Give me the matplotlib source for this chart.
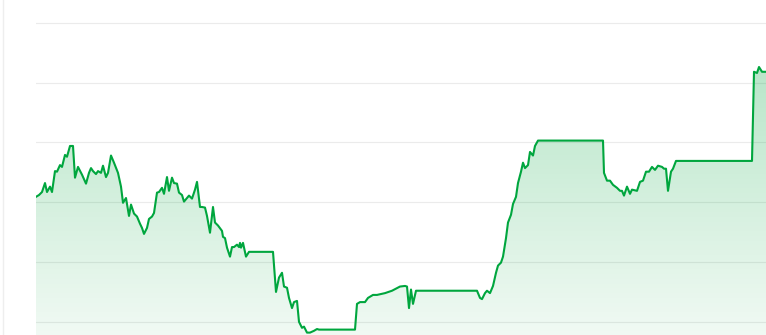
import numpy as np
import matplotlib
matplotlib.use("Agg")
from matplotlib import pyplot as plt
from matplotlib.lines import Line2D

# day index and price
days = [0, 1.5, 3, 4.5, 5.5, 7, 8, 9.5, 10.5, 12, 13, 14.5, 15.5, 17, 18.5, 19.5,
        21, 23, 25, 26.5, 27.5, 28.5, 30, 31, 32.5, 33.5, 35, 36, 37.5, 39, 41,
        42.5, 43.5, 45, 46.5, 47.5, 49, 50.5, 52, 53, 54, 55.5, 56.5, 58, 59,
        60.5, 61.5, 63, 64, 65.5, 66.5, 68, 69, 70.5, 71.5, 73, 74, 75.5, 76.5,
        78, 79.5, 80.5, 82, 83, 84.5, 85.5, 87, 88.5, 89.5, 91, 93, 93.5, 94.5,
        95.5, 97, 98, 99, 100.5, 101.5, 102, 102.5, 103.5, 105, 106.5, 118.5,
        120, 121.5, 123, 124, 125.5, 126.5, 128, 129, 130.5, 131.5, 133, 134,
        135.5, 137, 139, 140.5, 141.5, 152, 159.5, 160.5, 162, 164.5, 166,
        168.5, 170.5, 174.5, 178, 182, 184.5, 185.5, 186.5, 187.5, 188.5, 190,
        198.5, 208.5, 220.5, 222, 223, 224.5, 225.5, 227, 228.5, 230, 231,
        232.5, 233.5, 235, 236, 237.5, 238.5, 240, 241, 242.5, 243.5, 244.5,
        246, 247, 248.5, 249.5, 251, 283.5, 284, 285.5, 287, 288.5, 290.5, 292,
        293, 294, 295.5, 297, 298, 300.5, 302, 303.5, 305, 306.5, 308, 309.5,
        311, 313, 314, 315, 316, 317.5, 318.5, 320, 358, 359, 360.5, 361.5,
        363, 365]
price = [60.9, 61.2, 61.7, 63.2, 61.7, 62.6, 61.7, 65.2, 65.1, 66.2, 65.9, 67.9,
         67.6, 69.4, 69.4, 64.1, 65.9, 64.6, 63.1, 64.9, 65.7, 65.2, 64.7, 65.2,
         64.9, 66.1, 64.2, 64.9, 67.8, 66.6, 64.9, 62.6, 59.9, 60.7, 57.7, 59.6,
         58.1, 57.6, 56.4, 55.7, 54.7, 55.7, 57.2, 57.6, 58.2, 61.6, 61.7, 62.4,
         61.4, 64.2, 61.9, 64.1, 63.2, 63.1, 61.6, 61.2, 60.1, 60.7, 61.1, 60.6,
         62.1, 63.4, 59.2, 59.2, 59.1, 57.7, 54.9, 59.2, 56.6, 56.1, 55.2, 54.2,
         54.0, 52.4, 50.9, 52.5, 52.5, 52.9, 52.5, 53.2, 52.4, 53.2, 50.9, 51.7,
         51.7, 45.0, 47.4, 48.2, 45.9, 45.7, 44.0, 42.3, 43.3, 43.5, 40.0, 39.0,
         39.2, 38.2, 38.2, 38.5, 38.8, 38.7, 38.7, 38.7, 43.0, 43.3, 43.3, 44.0,
         44.5, 44.5, 44.8, 45.2, 45.9, 46.0, 45.9, 42.3, 45.4, 43.0, 45.2, 45.2,
         45.2, 45.2, 44.0, 43.8, 44.8, 45.2, 44.8, 46.0, 48.2, 49.4, 49.9, 50.9,
         54.0, 56.6, 57.9, 59.7, 60.9, 63.2, 65.1, 66.6, 65.7, 66.2, 68.4, 67.8,
         69.4, 70.3, 70.3, 64.9, 63.6, 63.6, 62.9, 62.4, 61.9, 61.9, 61.1, 62.6,
         61.4, 62.1, 61.9, 63.4, 63.6, 65.1, 65.1, 65.9, 65.4, 66.1, 65.9, 65.6,
         65.6, 61.9, 65.1, 65.6, 66.9, 66.9, 81.8, 81.6, 82.6, 81.8, 81.8]
grid_values = [40, 50, 60, 70, 80, 90]

line_color = "#00a63e"

fig = plt.figure(figsize=(7.66, 3.35), dpi=100)
ax = fig.add_axes([36 / 766, 0, 730 / 766, 1])
x0, x1 = 0, 365
y0, y1 = 37.8, 93.8
ax.set_xlim(x0, x1)
ax.set_ylim(y0, y1)

# gradient fill under the line
top = max(price)
grad = np.linspace(1, 0, 256).reshape(-1, 1)
rgba = np.zeros((256, 1, 4))
rgba[..., 0] = 0.0
rgba[..., 1] = 0.65
rgba[..., 2] = 0.24
rgba[..., 3] = 0.06 + 0.22 * grad
img = ax.imshow(rgba, extent=[x0, x1, y0, top], aspect="auto",
                origin="upper", zorder=1)
poly = ax.fill_between(days, price, y0, color="none")
clip = poly.get_paths()[0]
img.set_clip_path(clip, transform=ax.transData)

ax.plot(days, price, color=line_color, lw=1.5, zorder=3,
        solid_joinstyle="round")

for g in grid_values:
    ax.axhline(g, color="#ebebeb", lw=0.8, zorder=0)

for s in ax.spines.values():
    s.set_visible(False)
ax.set_xticks([])
ax.set_yticks([])

fig.add_artist(Line2D([2.5 / 766, 2.5 / 766], [0, 1], color="#eeeeee", lw=1,
                      transform=fig.transFigure))

fig.savefig("out.png", dpi=100)
